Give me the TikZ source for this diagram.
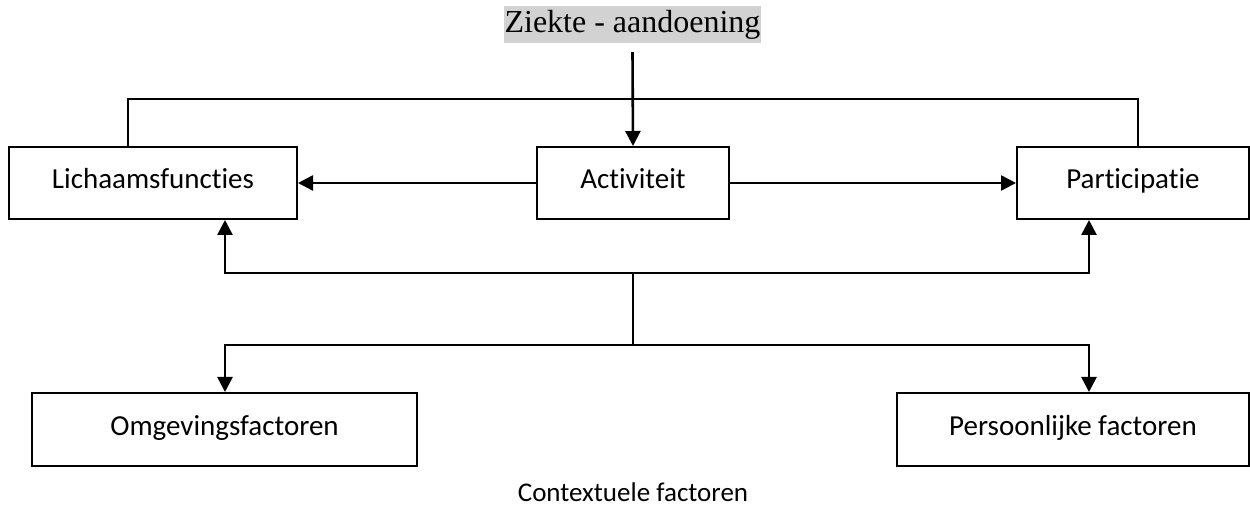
\documentclass[tikz,border=0pt]{standalone}
\usepackage{fontspec}
\setmainfont[Ligatures={NoCommon}]{Carlito}
\newfontfamily\timesfont{Liberation Serif}
\usetikzlibrary{arrows.meta}
\begin{document}
\begin{tikzpicture}[x=1pt,y=-1pt,
  box/.style={draw=black,line width=2pt,inner sep=0pt,minimum height=72pt,
    font=\fontsize{29}{33}\selectfont,text height=21pt,text depth=10pt},
  thin/.style={line width=2pt},
  arr/.style={line width=2.6pt,-{Triangle[length=15pt,width=15pt]}},
  heavy/.style={line width=2.6pt}]
\useasboundingbox (0,0) rectangle (1250,526);
\node[fill=gray!35,inner sep=0pt,minimum width=257pt,minimum height=37pt,
  font=\timesfont\fontsize{32}{35}\selectfont] (z) at (632.5,24.5) {Ziekte - aandoening};
\node[box,minimum width=192pt] (act) at (633,183) {Activiteit};
\node[box,minimum width=288pt] (lich) at (153,183) {Lichaamsfuncties};
\node[box,minimum width=232pt] (part) at (1133,183) {Participatie};
\node[box,minimum width=385pt,minimum height=73pt] (omg) at (224.5,429.5) {Omgevingsfactoren};
\node[box,minimum width=352pt,minimum height=73pt] (pers) at (1073,429.5) {Persoonlijke factoren};
\node[font=\fontsize{27}{31}\selectfont,inner sep=0pt] (ctx) at (633,492) {Contextuele factoren};
\coordinate (tl) at (128,99);
\coordinate (tr) at (1138,99);
\coordinate (h1) at (633,273);
\coordinate (h2) at (633,345);
\coordinate (lb) at (225,273);
\coordinate (rb) at (1089,273);
\coordinate (lo) at (225,345);
\coordinate (ro) at (1089,345);
\draw[thin] (lich.north -| tl) -- (tl) -- (tr) -- (part.north -| tr);
\draw[arr] ([yshift=-9pt]z.south) -- (act.north);
\draw[arr] (act.west) -- (lich.east);
\draw[arr] (act.east) -- (part.west);
\draw[heavy] (h1) -- (h2);
\draw[arr] (h1) -- (lb) -- (lich.south -| lb);
\draw[arr] (h1) -- (rb) -- (part.south -| rb);
\draw[arr] (h2) -- (lo) -- (omg.north -| lo);
\draw[arr] (h2) -- (ro) -- (pers.north -| ro);
\end{tikzpicture}
\end{document}
